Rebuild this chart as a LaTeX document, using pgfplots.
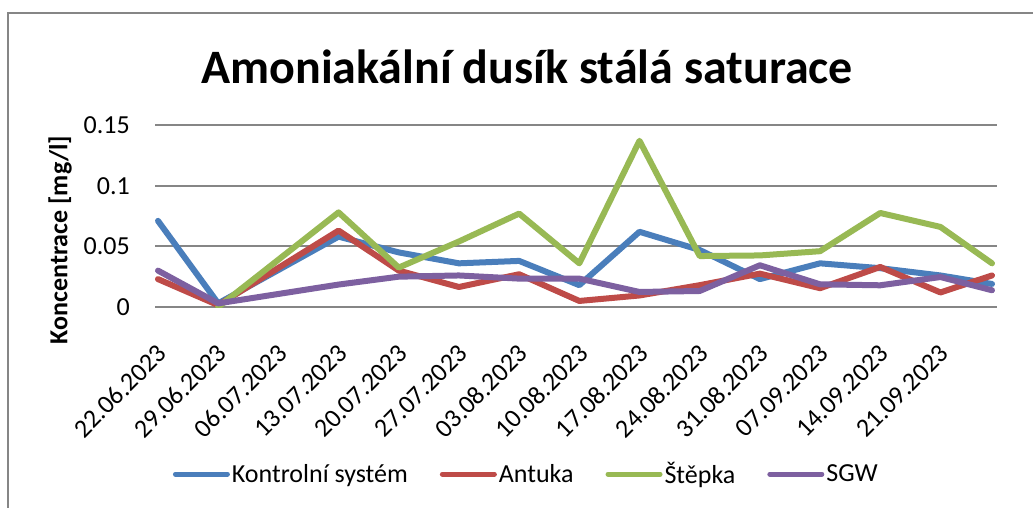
\documentclass[border=0pt]{standalone}
\usepackage{fontspec}
\setmainfont{Carlito}
\usepackage{pgfplots}
\pgfplotsset{compat=1.18}
\definecolor{cblue}{HTML}{4A7EBB}
\definecolor{cred}{HTML}{BE4B48}
\definecolor{cgreen}{HTML}{98B954}
\definecolor{cpurple}{HTML}{7D60A0}
\definecolor{gridgray}{HTML}{868686}
\pgfplotstableread{
x y
0 0.071
1 0.003
3 0.058
4 0.045
5 0.036
6 0.038
7 0.018
8 0.062
9 0.047
10 0.023
11 0.036
12 0.032
13 0.026
13.857 0.019
}\kontrolni
\pgfplotstableread{
x y
0 0.023
1 0.0015
3 0.063
4 0.030
5 0.0165
6 0.027
7 0.005
8 0.0095
9 0.018
10 0.0275
11 0.0155
12 0.033
13 0.012
13.857 0.026
}\antuka
\pgfplotstableread{
x y
1 0.000
3 0.078
4 0.0325
5 0.054
6 0.077
7 0.036
8 0.137
9 0.042
10 0.0425
11 0.046
12 0.0775
13 0.066
13.857 0.036
}\stepka
\pgfplotstableread{
x y
0 0.030
1 0.003
3 0.0185
4 0.025
5 0.026
6 0.0234
7 0.0234
8 0.0124
9 0.0132
10 0.0344
11 0.0187
12 0.0179
13 0.0247
13.857 0.0138
}\sgw
\begin{document}
\begin{tikzpicture}
\useasboundingbox (0pt,0pt) rectangle (1033pt,-507pt);
\clip (0pt,0pt) rectangle (1033pt,-507pt);
\fill[white] (0pt,0pt) rectangle (1033pt,-507pt);
\draw[gridgray, line width=2pt] (8pt,-13pt) rectangle (1060pt,-540pt);
\node[font=\bfseries\fontsize{48}{54}\selectfont, anchor=base, inner sep=0pt] at (527pt,-83pt) {Amoniakální dusík stálá saturace};
\begin{axis}[
  at={(155pt,-307pt)}, anchor=south west,
  scale only axis, width=842pt, height=182pt,
  xmin=-0.05, xmax=13.94, ymin=0, ymax=0.15,
  axis line style={draw=none},
  major tick length=0pt,
  ytick={0,0.05,0.1,0.15},
  yticklabels={0,0.05,0.1,0.15},
  xtick={0,1,2,3,4,5,6,7,8,9,10,11,12,13},
  xticklabels={22.06.2023,29.06.2023,06.07.2023,13.07.2023,20.07.2023,27.07.2023,03.08.2023,10.08.2023,17.08.2023,24.08.2023,31.08.2023,07.09.2023,14.09.2023,21.09.2023},
  ymajorgrids,
  grid style={gridgray, line width=2pt},
  yticklabel style={font=\fontsize{26}{30}\selectfont, anchor=east, inner sep=0pt, xshift=-25pt},
  xticklabel style={font=\fontsize{26}{30}\selectfont, anchor=east, inner sep=0pt, xshift=4pt, yshift=-42pt, rotate=45},
  ylabel={Koncentrace [mg/l]},
  every axis y label/.style={at={(axis description cs:-0.1128,0.368)}, rotate=90, anchor=center, font=\bfseries\fontsize{26}{30}\selectfont},
  legend columns=4,
  legend style={at={(axis description cs:0.441,-0.918)}, anchor=center, draw=none, fill=none,
    font=\fontsize{26}{30}\selectfont, nodes={inner sep=2pt},
    /tikz/every even column/.append style={column sep=30pt}},
  legend image code/.code={\draw[#1, line width=5pt, line cap=round] (0pt,0pt) -- (52pt,0pt);},
  every axis plot/.append style={line width=6pt, line join=round, line cap=round},
]
\addplot[cblue] table {\kontrolni};
\addlegendentry{Kontrolní systém}
\addplot[cred] table {\antuka};
\addlegendentry{Antuka}
\addplot[cgreen] table {\stepka};
\addlegendentry{Štěpka}
\addplot[cpurple] table {\sgw};
\addlegendentry{SGW}
\end{axis}
\end{tikzpicture}
\end{document}
